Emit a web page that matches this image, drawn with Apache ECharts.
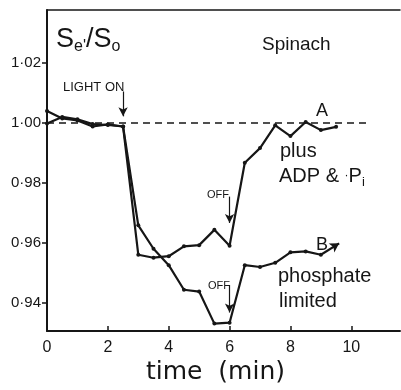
<!DOCTYPE html>
<html>
<head>
<meta charset="utf-8">
<script src="https://cdn.jsdelivr.net/npm/echarts@6/dist/echarts.min.js"></script>
<style>
  html, body { margin: 0; padding: 0; background: #fff; }
  #chart { width: 401px; height: 390px; }
</style>
</head>
<body>
<div id="chart"></div>
<script>
// ---- data ----
const xTicks = [0, 2, 4, 6, 8, 10];
const yTicks = [0.94, 0.96, 0.98, 1.00, 1.02];

// curve A: plus ADP & Pi
const timesA  = [0, 0.5, 1, 1.5, 2, 2.5, 3, 3.5, 4, 4.5, 5, 5.5, 6, 6.5, 7, 7.5, 8, 8.5, 9, 9.5];
const valuesA = [1.004, 1.0015, 1.0008, 0.9988, 0.9995, 0.9988, 0.956, 0.955, 0.9555, 0.9588,
                 0.9592, 0.9643, 0.959, 0.9867, 0.9916, 0.9992, 0.9956, 1.0003, 0.9976, 0.9987];

// curve B: phosphate limited (last step drawn as arrow)
const timesB  = [0, 0.5, 1, 1.5, 2, 2.5, 3, 3.5, 4, 4.5, 5, 5.5, 6, 6.5, 7, 7.5, 8, 8.5, 9];
const valuesB = [0.9998, 1.002, 1.0012, 0.9996, 0.9993, 0.9988, 0.9658, 0.958, 0.9525, 0.9443,
                 0.9437, 0.933, 0.9333, 0.9525, 0.9519, 0.9533, 0.9568, 0.9571, 0.956];
const arrowB = [[9, 0.956], [9.6, 0.9598]];

const baseline = [[0, 1.0], [10.6, 1.0]];

// LIGHT ON / OFF arrows (time, from, to)
const lightOn = [2.5, 1.0105, 1.0022];
const offA = [6, 0.9754, 0.9666];
const offB = [6, 0.9459, 0.9367];

const pair = (t, v) => t.map((x, i) => [x, v[i]]);
const fmt = v => v.toFixed(2).replace('.', '\u00b7');

const INK = '#161616';
const FONT = 'Liberation Sans, Arial, sans-serif';

const chart = echarts.init(document.getElementById('chart'), null, { renderer: 'canvas' });

const arrowLine = (t, y0, y1) => [
  { coord: [t, y0], symbol: 'none' },
  { coord: [t, y1], symbol: 'arrow' }
];

const option = {
  backgroundColor: '#fff',
  animation: false,
  grid: { left: 47, right: 1, top: 10, bottom: 53 },
  xAxis: [
    {
      type: 'value', min: 0, max: 11.6,
      name: 'time  (min)', nameLocation: 'middle', nameGap: 26,
      nameTextStyle: { color: INK, fontSize: 25, fontFamily: 'DejaVu Sans', padding: [0, 16, 0, 0] },
      axisLine: { lineStyle: { color: INK, width: 2 } },
      axisTick: { inside: true, length: 5, customValues: xTicks, lineStyle: { color: INK, width: 1.5 } },
      axisLabel: { customValues: xTicks, color: INK, fontSize: 16, fontFamily: FONT, margin: 8 },
      splitLine: { show: false }
    },
    {
      // top frame line only
      type: 'value', position: 'top', min: 0, max: 11.6,
      axisLine: { lineStyle: { color: INK, width: 1.5 } },
      axisTick: { show: false }, axisLabel: { show: false }, splitLine: { show: false }
    }
  ],
  yAxis: {
    type: 'value', min: 0.9305, max: 1.0377,
    axisLine: { show: true, lineStyle: { color: INK, width: 2 } },
    axisTick: { show: true, length: 5, customValues: yTicks, lineStyle: { color: INK, width: 1.5 } },
    axisLabel: { customValues: yTicks, formatter: fmt, color: INK, fontSize: 15, fontFamily: FONT, margin: 6 },
    splitLine: { show: false }
  },
  series: [
    {
      name: 'baseline', type: 'line', data: baseline, symbol: 'none', silent: true,
      lineStyle: { color: INK, width: 1.5, type: [7, 5] },
      markLine: {
        silent: true, symbolSize: [7, 9], label: { show: false },
        lineStyle: { color: INK, width: 1.2, type: 'solid' },
        data: [arrowLine(...lightOn), arrowLine(...offA), arrowLine(...offB)]
      }
    },
    {
      name: 'A', type: 'line', data: pair(timesA, valuesA),
      symbol: 'circle', symbolSize: 4, itemStyle: { color: INK },
      lineStyle: { color: INK, width: 2.2 }
    },
    {
      name: 'B', type: 'line', data: pair(timesB, valuesB),
      symbol: 'circle', symbolSize: 4, itemStyle: { color: INK },
      lineStyle: { color: INK, width: 2.2 },
      markLine: {
        silent: true, symbolSize: [8, 9], label: { show: false },
        lineStyle: { color: INK, width: 2.2, type: 'solid' },
        data: [[{ coord: arrowB[0], symbol: 'none' }, { coord: arrowB[1], symbol: 'arrow' }]]
      }
    }
  ],
  graphic: [
    {
      type: 'text', left: 56, top: 26,
      style: {
        text: '{b|S}{s|e\'}{b|/S}{s|o}',
        rich: {
          b: { fontSize: 27, fontFamily: FONT, fill: INK },
          s: { fontSize: 16, fontFamily: FONT, fill: INK, padding: [14, 0, 0, 0] }
        }
      }
    },
    { type: 'text', left: 262, top: 35, style: { text: 'Spinach', fontSize: 19, fontFamily: FONT, fill: INK } },
    { type: 'text', left: 63, top: 81, style: { text: 'LIGHT ON', fontSize: 13, fontFamily: FONT, fill: INK } },
    { type: 'text', left: 316, top: 102, style: { text: 'A', fontSize: 18, fontFamily: FONT, fill: INK } },
    { type: 'text', left: 280, top: 141, style: { text: 'plus', fontSize: 20, fontFamily: FONT, fill: INK } },
    {
      type: 'text', left: 279, top: 166,
      style: {
        text: 'ADP & {d|·}P{s|i}',
        fontSize: 20, fontFamily: FONT, fill: INK,
        rich: { d: { fontSize: 12, fontFamily: FONT, fill: INK }, s: { fontSize: 13, fontFamily: FONT, fill: INK, padding: [12, 0, 0, 0] } }
      }
    },
    { type: 'text', left: 207, top: 189, style: { text: 'OFF', fontSize: 11, fontFamily: FONT, fill: INK } },
    { type: 'text', left: 208, top: 280, style: { text: 'OFF', fontSize: 11, fontFamily: FONT, fill: INK } },
    { type: 'text', left: 316, top: 236, style: { text: 'B', fontSize: 18, fontFamily: FONT, fill: INK } },
    { type: 'text', left: 278, top: 266, style: { text: 'phosphate', fontSize: 20, fontFamily: FONT, fill: INK } },
    { type: 'text', left: 279, top: 291, style: { text: 'limited', fontSize: 20, fontFamily: FONT, fill: INK } }
  ]
};

chart.setOption(option);
</script>
</body>
</html>
